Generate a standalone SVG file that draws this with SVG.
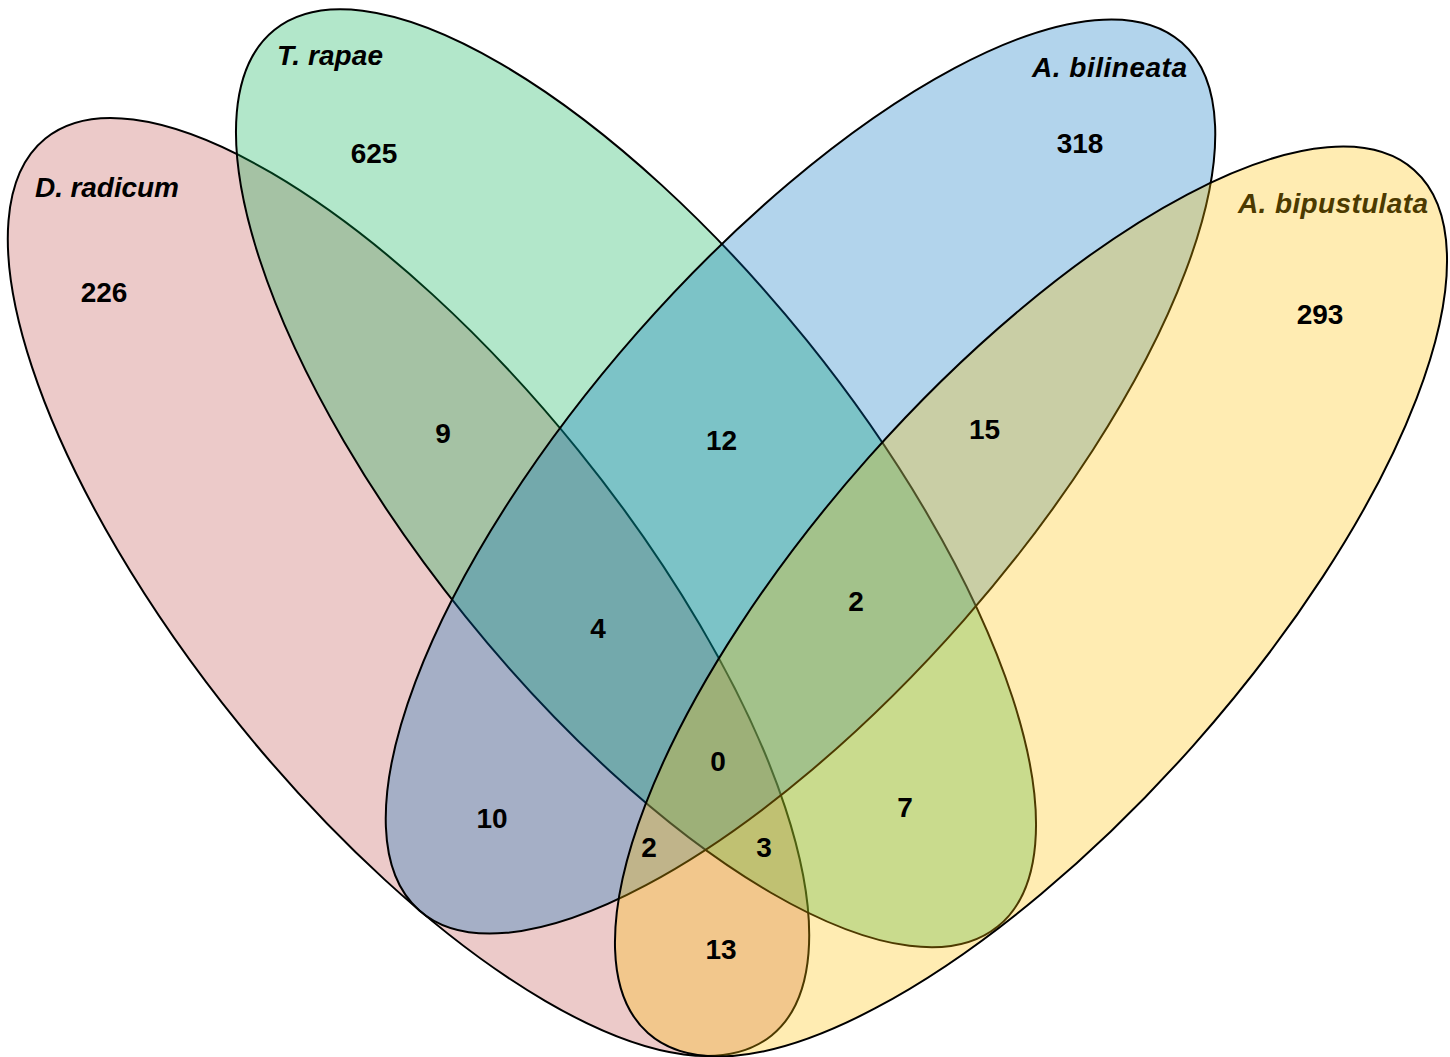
<svg xmlns="http://www.w3.org/2000/svg" width="1450" height="1057" viewBox="0 0 1450 1057">
<style>
.set{fill-opacity:0.3;stroke:#000;stroke-width:2}
.lbl{font-family:"Liberation Sans",Arial,sans-serif;font-weight:bold;font-style:italic;font-size:28px;fill:#000}
.num{font-family:"Liberation Sans",Arial,sans-serif;font-weight:bold;font-size:28px;fill:#000;text-anchor:middle}
</style>
<rect width="1450" height="1057" fill="#fff"/>
<g id="d-radicum">
<ellipse class="set" fill="#C0504D" cx="408.5" cy="587" rx="577" ry="218" transform="rotate(51 408.5 587)"/>
<text class="lbl" x="35" y="197" textLength="144">D. radicum</text>
</g>
<g id="t-rapae">
<ellipse class="set" fill="#00B050" cx="636" cy="478.3" rx="576" ry="219.5" transform="rotate(51.1 636 478.3)"/>
<text class="lbl" x="277" y="65" textLength="106">T. rapae</text>
</g>
<g id="a-bilineata">
<ellipse class="set" fill="#0070C0" cx="800.5" cy="476.5" rx="577.6" ry="217.5" transform="rotate(-48.7 800.5 476.5)"/>
<text class="lbl" x="1032" y="77" textLength="155">A. bilineata</text>
</g>
<g id="a-bipustulata">
<ellipse class="set" fill="#FFC000" cx="1031" cy="601.5" rx="577" ry="217" transform="rotate(-48.4 1031 601.5)"/>
<text class="lbl" x="1238" y="213" textLength="190" style="fill:#4C3A00">A. bipustulata</text>
</g>
<g id="connectors"></g>
<g id="counts">
<text class="num" x="104" y="302">226</text>
<text class="num" x="374" y="163">625</text>
<text class="num" x="1080" y="153">318</text>
<text class="num" x="1320" y="324">293</text>
<text class="num" x="443" y="443">9</text>
<text class="num" x="721.5" y="450">12</text>
<text class="num" x="984.5" y="439">15</text>
<text class="num" x="598" y="638">4</text>
<text class="num" x="856" y="611">2</text>
<text class="num" x="718" y="771">0</text>
<text class="num" x="492" y="828">10</text>
<text class="num" x="905" y="817">7</text>
<text class="num" x="649" y="857">2</text>
<text class="num" x="764" y="857">3</text>
<text class="num" x="721" y="959">13</text>
</g>
</svg>
